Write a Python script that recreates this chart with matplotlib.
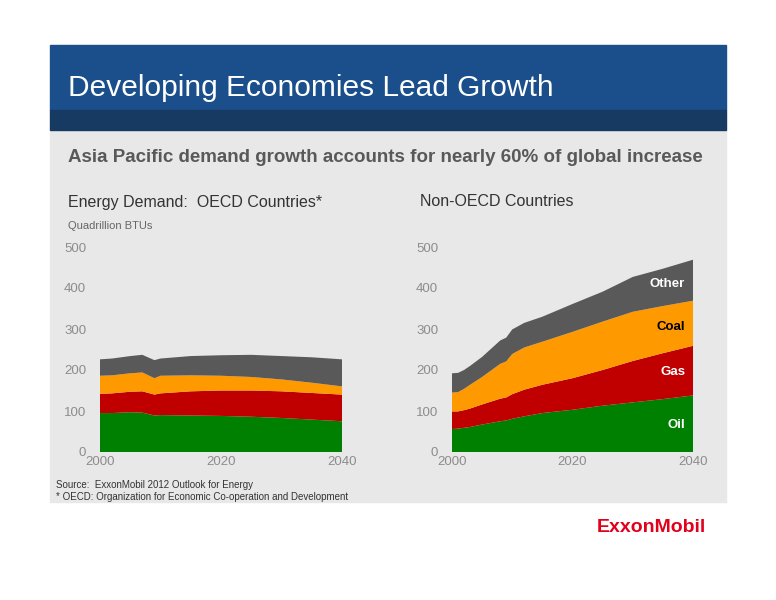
import matplotlib
matplotlib.use("Agg")
import matplotlib.pyplot as plt
import numpy as np
from matplotlib.patches import Rectangle

oecd_years = [2000, 2002, 2005, 2007, 2009, 2010, 2015, 2020, 2025, 2030, 2035, 2040]
oecd_oil   = [95, 95, 97, 96, 89, 90, 89, 88, 86, 83, 79, 75]
oecd_gas   = [47, 48, 50, 52, 51, 53, 59, 62, 64, 65, 65, 65]
oecd_coal  = [44, 44, 45, 46, 40, 43, 39, 36, 33, 29, 25, 20]
oecd_other = [40, 41, 42, 43, 44, 42, 47, 50, 54, 57, 62, 66]

non_years = [2000, 2001, 2002, 2003, 2005, 2008, 2009, 2010, 2012, 2015, 2020, 2025, 2030, 2035, 2040]
non_oil   = [56, 57, 59, 61, 67, 75, 77, 81, 87, 95, 103, 113, 121, 129, 138]
non_gas   = [43, 42, 43, 45, 49, 55, 56, 60, 65, 69, 77, 87, 101, 112, 121]
non_coal  = [46, 47, 52, 58, 67, 85, 88, 98, 103, 105, 113, 118, 120, 115, 110]
non_other = [47, 47, 46, 46, 49, 57, 58, 60, 60, 61, 68, 73, 85, 91, 100]

colors = ["#008000", "#c00000", "#ff9900", "#595959"]
labels = ["Oil", "Gas", "Coal", "Other"]
label_y = [65, 195, 305, 410]

fig = plt.figure(figsize=(7.76, 6.0), dpi=100)
fig.patch.set_facecolor("white")
fig.add_artist(Rectangle((50/776, 1-502/600), 676/776, 372/600, transform=fig.transFigure, color="#e8e8e8", zorder=0))
fig.add_artist(Rectangle((50/776, 1-110/600), 676/776, 65/600, transform=fig.transFigure, color="#1a4f8c", zorder=0))
fig.add_artist(Rectangle((50/776, 1-130/600), 676/776, 20/600, transform=fig.transFigure, color="#173a63", zorder=0))
fig.text(68/776, 1-88/600, "Developing Economies Lead Growth", color="white", fontsize=21.5, va="center", family="Liberation Sans")
fig.text(68/776, 1-157/600, "Asia Pacific demand growth accounts for nearly 60% of global increase", color="#595959", fontsize=13.5, fontweight="bold", va="center", family="Liberation Sans")
fig.text(68/776, 1-202/600, "Energy Demand:  OECD Countries*", color="#333333", fontsize=11.5, va="center", family="Liberation Sans")
fig.text(420/776, 1-202/600, "Non-OECD Countries", color="#333333", fontsize=11.5, va="center", family="Liberation Sans")
fig.text(68/776, 1-226/600, "Quadrillion BTUs", color="#666666", fontsize=8, va="center", family="Liberation Sans")
fig.text(56/776, 1-485/600, "Source:  ExxonMobil 2012 Outlook for Energy", color="#333333", fontsize=7, va="center", family="Liberation Sans")
fig.text(56/776, 1-497/600, "* OECD: Organization for Economic Co-operation and Development", color="#333333", fontsize=7, va="center", family="Liberation Sans")
fig.text(706/776, 1-528/600, "ExxonMobil", color="#e2001a", fontsize=14, fontweight="bold", ha="right", va="center", family="Liberation Sans")

def panel(rect, yrs, data, show_labels):
    ax = fig.add_axes(rect)
    ax.stackplot(yrs, *data, colors=colors, linewidth=0)
    ax.set_xlim(2000, 2040)
    ax.set_ylim(0, 500)
    ax.set_xticks([2000, 2020, 2040])
    ax.set_yticks([0, 100, 200, 300, 400, 500])
    ax.patch.set_alpha(0)
    for s in ax.spines.values():
        s.set_visible(False)
    ax.tick_params(length=0, colors="#8c8c8c", labelsize=9.5, pad=10)
    ax.tick_params(axis="x", pad=3)
    for t in ax.get_xticklabels() + ax.get_yticklabels():
        t.set_family("Liberation Sans")
    if show_labels:
        for lab, y in zip(labels, label_y):
            ax.text(2038.7, y, lab, ha="right", va="center",
                    fontsize=9.5, fontweight="bold", color="black" if lab == "Coal" else "white",
                    family="Liberation Sans")
    return ax

panel([100/776, 148/600, 242/776, 205/600], oecd_years, [oecd_oil, oecd_gas, oecd_coal, oecd_other], False)
panel([452/776, 148/600, 241/776, 205/600], non_years, [non_oil, non_gas, non_coal, non_other], True)

fig.savefig("out.png", dpi=100, facecolor="white")
